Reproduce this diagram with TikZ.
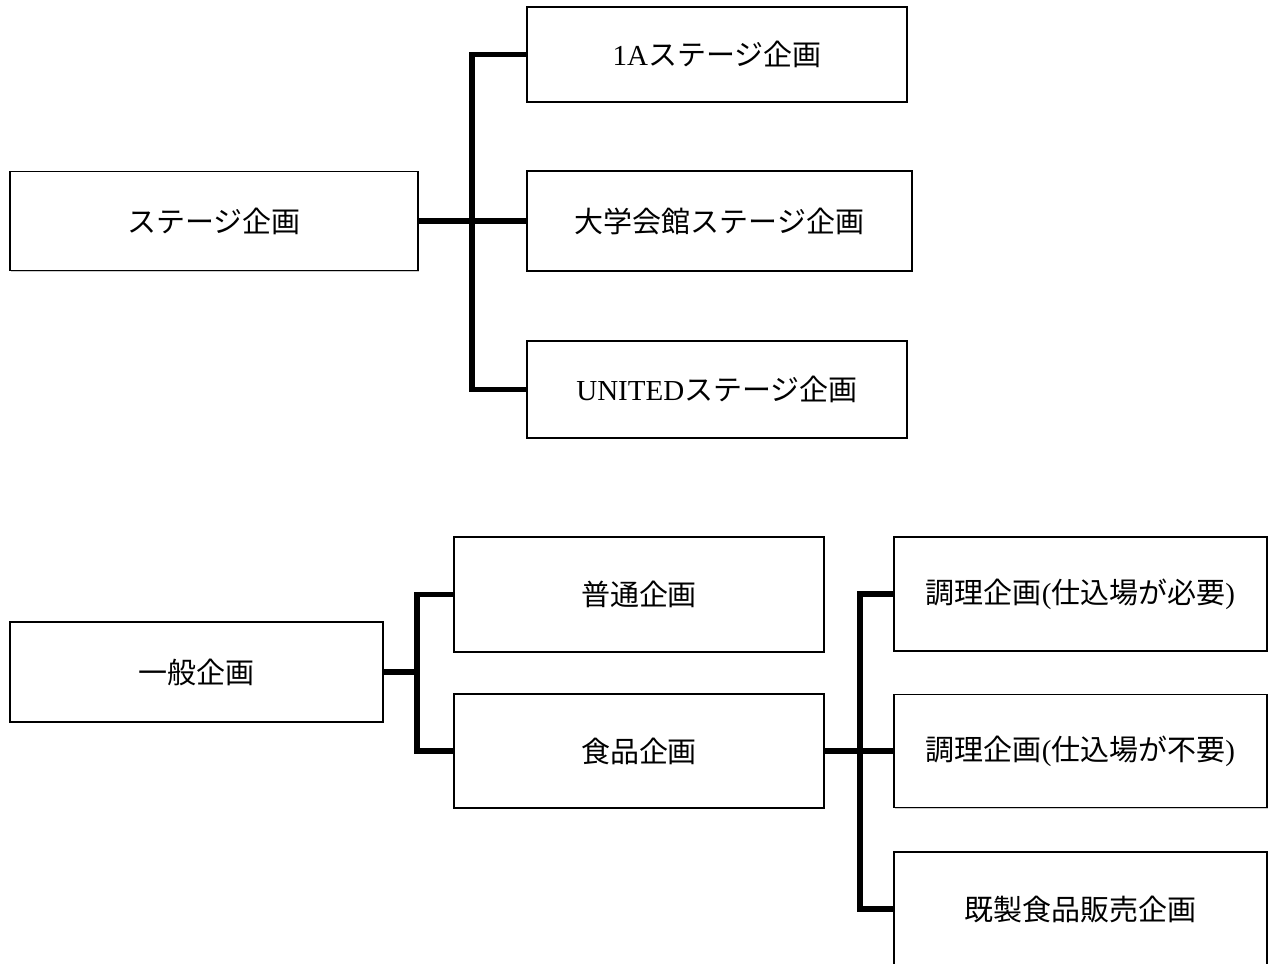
\documentclass[tikz,border=0pt]{standalone}
\usepackage{fontspec}
\setmainfont{Liberation Serif}
\newfontfamily\cjk{Noto Sans CJK JP}
\usetikzlibrary{shadows}

\tikzset{
  box/.style={draw, line width=0.8pt, fill=white, inner sep=0pt,
    drop shadow={shadow xshift=0.6pt, shadow yshift=-0.6pt, opacity=0.4},
    font=\fontsize{16.5}{19}\selectfont},
  branch/.style={line width=2.9pt, line join=miter},
  stem/.style={line width=3.8pt}
}

\begin{document}
\begin{tikzpicture}
    \useasboundingbox (0,0) rectangle (25.36,-19.28);

    % stage group
    \node[box, minimum width=8.16cm, minimum height=1.98cm] (stage) at (4.28,-4.42) {\cjk ステージ企画};
    \node[box, minimum width=7.6cm, minimum height=1.9cm] (st1A) at (14.34,-1.09) {1A{\cjk ステージ企画}};
    \node[box, minimum width=7.7cm, minimum height=2.0cm] (daigaku) at (14.39,-4.42) {\cjk 大学会館ステージ企画};
    \node[box, minimum width=7.6cm, minimum height=1.94cm] (united) at (14.34,-7.79) {UNITED{\cjk ステージ企画}};
    \coordinate (sj) at (9.44,-4.42);

    \draw[stem] (stage.east) -- (daigaku.west);
    \draw[branch] (st1A.west) -| (sj) |- (united.west);

    % general group
    \node[box, minimum width=7.46cm, minimum height=2.0cm] (ippan) at (3.93,-13.44) {\cjk 一般企画};
    \node[box, minimum width=7.4cm, minimum height=2.3cm] (futsuu) at (12.78,-11.89) {\cjk 普通企画};
    \node[box, minimum width=7.4cm, minimum height=2.28cm] (shokuhin) at (12.78,-15.02) {\cjk 食品企画};
    \coordinate (ij) at (8.34,-13.44);

    \draw[stem] (ippan.east) -- (ij);
    \draw[branch] (futsuu.west) -| (ij) |- (shokuhin.west);

    % food group
    \node[box, minimum width=7.46cm, minimum height=2.28cm] (chouri1) at (21.61,-11.88) {{\cjk 調理企画}({\cjk 仕込場が必要})};
    \node[box, minimum width=7.46cm, minimum height=2.26cm] (chouri2) at (21.61,-15.02) {{\cjk 調理企画}({\cjk 仕込場が不要})};
    \node[box, minimum width=7.46cm, minimum height=2.28cm] (kisei) at (21.61,-18.18) {\cjk 既製食品販売企画};
    \coordinate (fj) at (17.2,-15.02);

    \draw[stem] (shokuhin.east) -- (chouri2.west);
    \draw[branch] (chouri1.west) -| (fj) |- (kisei.west);
\end{tikzpicture}
\end{document}
